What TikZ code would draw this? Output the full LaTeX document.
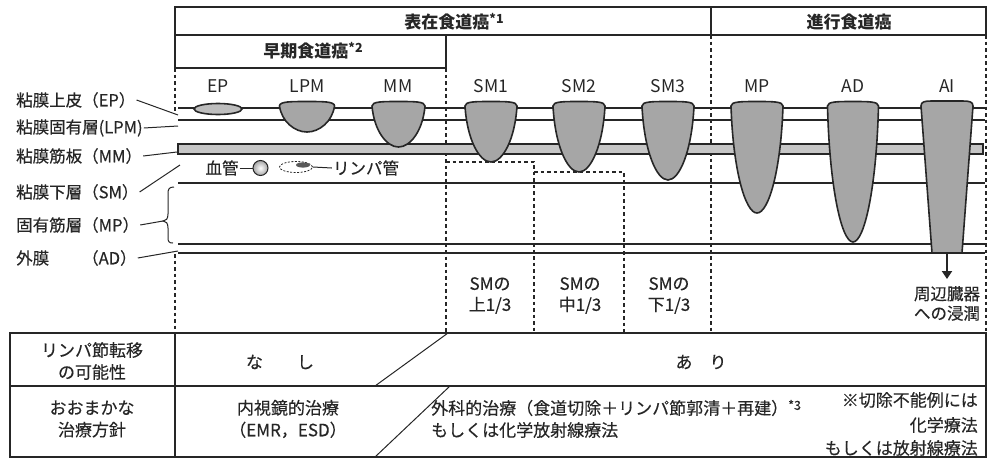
\documentclass[tikz,border=0pt]{standalone}
\usepackage{fontspec}
\setmainfont{Noto Sans CJK JP}
\newfontfamily\medfont{Noto Sans CJK JP}[FakeBold=0.35]
\usetikzlibrary{arrows.meta,shapes.geometric}
\definecolor{ink}{HTML}{262626}
\definecolor{tumorfill}{HTML}{A6A6A6}
\definecolor{epfill}{HTML}{BDBDBD}
\definecolor{bandfill}{HTML}{C6C6C6}
% tumour outline: centre x, half width, depth (y of the lowest point)
\newcommand\tumorpath[3]{%
  \draw[tumor] ({#1-#2},106)
    .. controls ({#1-0.92*#2},{106+0.6*(#3-106)}) and ({#1-0.45*#2},#3) .. (#1,#3)
    .. controls ({#1+0.45*#2},#3) and ({#1+0.92*#2},{106+0.6*(#3-106)}) .. ({#1+#2},106)
    .. controls ({#1+#2},101.5) and ({#1+0.6*#2},101.5) .. (#1,101.5)
    .. controls ({#1-0.6*#2},101.5) and ({#1-#2},101.5) .. cycle;}
\newcommand\noteref[1]{\raisebox{0.5ex}{\fontsize{12.5}{12.5}\selectfont *#1}}
\begin{document}
\begin{tikzpicture}[x=1pt,y=-1pt,
  frame/.style={draw=ink,line width=1.4pt},
  layer/.style={draw=ink,line width=1.2pt},
  guide/.style={draw=ink,line width=1.2pt,dash pattern=on 3.5pt off 3pt},
  tumor/.style={draw=ink,line width=1.6pt,fill=tumorfill},
  pointer/.style={draw=ink,line width=1pt},
  hdr/.style={inner sep=1pt,text=ink,font=\fontsize{17}{20}\selectfont\bfseries},
  lbl/.style={inner sep=1pt,anchor=west,text=ink,font=\medfont\fontsize{16.5}{19}\selectfont},
  tlbl/.style={inner sep=1pt,text=ink,font=\fontsize{17.5}{20}\selectfont},
  sml/.style={inner sep=1pt,text=ink,align=center,font=\medfont\fontsize{17}{21}\selectfont},
  cell/.style={inner sep=1pt,text=ink,align=center,font=\medfont\fontsize{17}{22}\selectfont}]
\useasboundingbox (0,0) rectangle (989,458);

% ---- header boxes ----
\draw[frame] (175,7) rectangle (986,35);
\draw[frame] (711,7) -- (711,35);
\draw[frame] (175,35) rectangle (446,68);
\node[hdr] (hsurf) at (454,22) {表在食道癌\noteref{1}};
\node[hdr] (hadv) at (849,22) {進行食道癌};
\node[hdr] (hearly) at (313,51) {早期食道癌\noteref{2}};

% ---- dashed column guides ----
\draw[guide] (175,68) -- (175,113);
\draw[guide] (175,254) -- (175,333);
\draw[guide] (446,68) -- (446,333);
\draw[guide] (711,35) -- (711,333);
\draw[guide] (986,35) -- (986,333);
\draw[guide] (446,162) -- (534,162) -- (534,333);
\draw[guide] (534,172) -- (624,172) -- (624,333);

% ---- wall layers ----
\draw[layer] (178,108) -- (985,108);
\draw[layer] (178,120) -- (985,120);
\draw[layer,fill=bandfill] (178,144) rectangle (983,154);
\draw[layer] (178,183) -- (985,183);
\draw[layer] (178,244) -- (985,244);
\draw[layer] (178,253) -- (985,253);

% ---- tumours by depth ----
\draw[tumor,fill=epfill] (218,109) ellipse [x radius=24, y radius=5.5];
\tumorpath{307}{27.5}{132}
\tumorpath{398.5}{26.5}{147}
\tumorpath{491}{26}{162}
\tumorpath{579}{26}{172}
\tumorpath{668}{26}{180}
\tumorpath{757}{26}{213}
\tumorpath{853}{25.5}{242}
\draw[tumor] (921,106) .. controls (921,101.5) and (925,101) .. (932,101)
  -- (962,101) .. controls (969,101) and (973,101.5) .. (973,106)
  -- (962,253) -- (932,253) -- cycle;
\coordinate (aibase) at (947,253);
\coordinate (aitip) at (947,279);
\draw[draw=ink,line width=2.4pt,-{Triangle[length=8pt,width=10pt]}] (aibase) -- (aitip);

% ---- depth labels ----
\node[tlbl] (tep)  at (218,86) {EP};
\node[tlbl] (tlpm) at (307,86) {LPM};
\node[tlbl] (tmm)  at (398,86) {MM};
\node[tlbl] (tsm1) at (491,86) {SM1};
\node[tlbl] (tsm2) at (579,86) {SM2};
\node[tlbl] (tsm3) at (668,86) {SM3};
\node[tlbl] (tmp)  at (757,86) {MP};
\node[tlbl] (tad)  at (853,86) {AD};
\node[tlbl] (tai)  at (947,86) {AI};

% ---- layer names ----
\node[lbl] (lep)  at (15,100) {粘膜上皮（EP）};
\node[lbl] (llpm) at (15,128) {粘膜固有層(LPM)};
\node[lbl] (lmm)  at (15,156) {粘膜筋板（MM）};
\node[lbl] (lsm)  at (15,192) {粘膜下層（SM）};
\node[lbl] (lmp)  at (15,225) {固有筋層（MP）};
\node[lbl] (lad)  at (15,258) {外膜　　（AD）};
\coordinate (pep)  at (178,115);
\coordinate (plpm) at (178,126);
\coordinate (pmm)  at (177,152);
\coordinate (psm)  at (180,165);
\coordinate (pmp)  at (163,221);
\coordinate (pad)  at (178,251);
\draw[pointer] (lep.east) -- (pep);
\draw[pointer] (llpm.east) -- (plpm);
\draw[pointer] (lmm.east) -- (pmm);
\draw[pointer] (lsm.east) -- (psm);
\draw[pointer] (lmp.east) -- (pmp);
\draw[pointer] (lad.east) -- (pad);
% brace spanning the muscularis propria
\draw[pointer] (174,187) .. controls (169,187) and (168,189) .. (168,194)
  -- (168,214) .. controls (168,219) and (166,221) .. (pmp)
  .. controls (166,221) and (168,223) .. (168,228)
  -- (168,237) .. controls (168,242) and (169,243) .. (173,243);

% ---- vessels in the submucosa ----
\node[inner sep=1pt,text=ink,font=\medfont\fontsize{16.5}{19}\selectfont] (bvt) at (222,168) {血管};
\node[circle,draw=ink,line width=1pt,minimum size=15pt,inner sep=0,
  inner color=white,outer color=black!35] (bv) at (260.5,168) {};
\node[ellipse,draw=ink,line width=0.8pt,dash pattern=on 2pt off 1.5pt,
  minimum width=33pt,minimum height=11pt,inner sep=0] (lv) at (296,167) {};
\fill[black!65] (303,165) ellipse [x radius=7, y radius=2.6];
\node[inner sep=1pt,text=ink,font=\medfont\fontsize{16.5}{19}\selectfont] (lvt) at (366,168) {リンパ管};
\draw[pointer] (bvt.east) -- (bv.west);
\draw[pointer] (lv.east) -- (lvt.west);

% ---- submucosal thirds and invasion note ----
\node[sml] (sm1t) at (490,295.5) {SMの\\上1/3};
\node[sml] (sm2t) at (580,295.5) {SMの\\中1/3};
\node[sml] (sm3t) at (669,295.5) {SMの\\下1/3};
\node[sml,font=\medfont\fontsize{16.5}{19.5}\selectfont] (ait) at (947,303.5) {周辺臓器\\への浸潤};

% ---- summary table ----
\draw[frame] (10,333) rectangle (986,457);
\draw[frame] (10,386) -- (986,386);
\draw[frame] (175,333) -- (175,457);
\draw[pointer] (375,386) -- (448,333);
\draw[pointer] (450,386) -- (375,457);
\node[cell] (rowa) at (92,361) {リンパ節転移\\の可能性};
\node[cell] (rowb) at (92,419) {おおまかな\\治療方針};
\node[cell] (none) at (280,362) {な　　し};
\node[cell] (some) at (701,362) {あ　り};
\node[cell] (endo) at (288,419) {内視鏡的治療\\（EMR，ESD）};
\node[cell,anchor=west] (surg) at (430,408) {外科的治療（食道切除＋リンパ節郭清＋再建）\noteref{3}};
\node[cell,anchor=west] (crt) at (430,430) {もしくは化学放射線療法};
\node[cell,anchor=east] (nr1) at (979,400) {※切除不能例には};
\node[cell,anchor=east] (nr2) at (979,425) {化学療法};
\node[cell,anchor=east] (nr3) at (979,448) {もしくは放射線療法};
\end{tikzpicture}
\end{document}
